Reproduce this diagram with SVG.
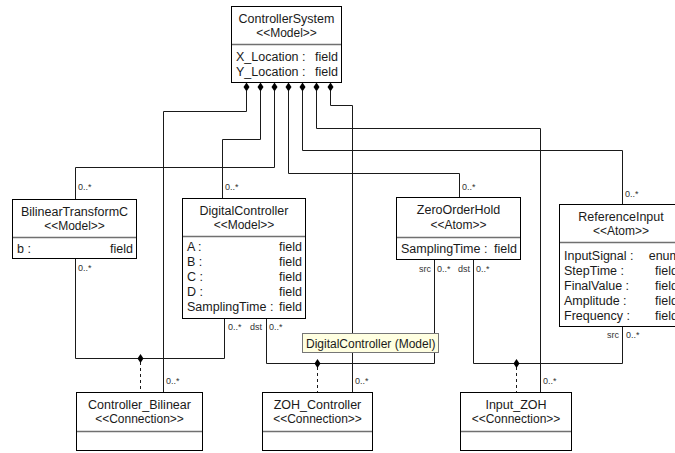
<svg xmlns="http://www.w3.org/2000/svg" width="675" height="453" viewBox="0 0 675 453">
<style>
.box{fill:#fff;stroke:#000;stroke-width:1}
.div{stroke:#707070;stroke-width:1.5}
.t{font-family:"Liberation Sans",Arial,sans-serif;font-size:12.5px;fill:#1a1a1a}
.c{text-anchor:middle}
.r{text-anchor:end}
.s{font-family:"Liberation Sans",Arial,sans-serif;font-size:12px;fill:#1a1a1a;text-anchor:middle}
.l{font-family:"Liberation Sans",Arial,sans-serif;font-size:9px;fill:#333}
.ln{fill:none;stroke:#1a1a1a;stroke-width:1}
.dash{fill:none;stroke:#1a1a1a;stroke-width:1;stroke-dasharray:3,3}
.dia{fill:#000}
</style>
<defs>
<polygon id="d" points="0,-4.5 3,0 0,4.5 -3,0"/>
</defs>
<g id="connectors">
<path class="ln" d="M246.5,91 V111.5 H163.5 V392"/>
<path class="ln" d="M260.5,91 V139.5 H222.5 V198"/>
<path class="ln" d="M274.5,91 V167.5 H75.5 V199"/>
<path class="ln" d="M288.5,91 V173.5 H459.5 V197"/>
<path class="ln" d="M302.5,91 V150.5 H622.5 V204"/>
<path class="ln" d="M316.5,91 V128.5 H540.5 V392"/>
<path class="ln" d="M330.5,91 V105.5 H352.5 V392"/>
<use href="#d" class="dia" x="246.5" y="87"/>
<use href="#d" class="dia" x="260.5" y="87"/>
<use href="#d" class="dia" x="274.5" y="87"/>
<use href="#d" class="dia" x="288.5" y="87"/>
<use href="#d" class="dia" x="302.5" y="87"/>
<use href="#d" class="dia" x="316.5" y="87"/>
<use href="#d" class="dia" x="330.5" y="87"/>
<path class="ln" d="M75.5,259 V358.5 H224.5 V318"/>
<path class="ln" d="M266.5,318 V363.5 H434.5 V259"/>
<path class="ln" d="M473.5,259 V363.5 H622.5 V326"/>
<path class="dash" d="M140.5,362 V392"/>
<path class="dash" d="M317.5,367 V392"/>
<path class="dash" d="M516.5,367 V392"/>
<use href="#d" class="dia" x="140.5" y="358.5"/>
<use href="#d" class="dia" x="317.5" y="363.5"/>
<use href="#d" class="dia" x="516.5" y="363.5"/>
<text class="l" x="78" y="190">0..*</text>
<text class="l" x="225" y="190">0..*</text>
<text class="l" x="462" y="190">0..*</text>
<text class="l" x="625" y="197">0..*</text>
<text class="l" x="78" y="271">0..*</text>
<text class="l" x="228" y="330">0..*</text>
<text class="l r" x="262" y="330">dst</text>
<text class="l" x="269" y="330">0..*</text>
<text class="l r" x="431" y="272">src</text>
<text class="l" x="437" y="272">0..*</text>
<text class="l r" x="470" y="272">dst</text>
<text class="l" x="476" y="272">0..*</text>
<text class="l r" x="619" y="338">src</text>
<text class="l" x="626" y="338">0..*</text>
<text class="l" x="166" y="384">0..*</text>
<text class="l" x="355" y="384">0..*</text>
<text class="l" x="543" y="384">0..*</text>
</g>
<g id="ControllerSystem">
<rect class="box" x="231.5" y="6.5" width="110" height="76"/>
<text class="t c" x="286.5" y="23">ControllerSystem</text>
<text class="s" x="286.5" y="37">&lt;&lt;Model&gt;&gt;</text>
<line class="div" x1="232" y1="44.5" x2="341" y2="44.5"/>
<text class="t" x="236" y="61">X_Location :</text>
<text class="t r" x="338" y="61">field</text>
<text class="t" x="236" y="76">Y_Location :</text>
<text class="t r" x="338" y="76">field</text>
</g>
<g id="BilinearTransformC">
<rect class="box" x="12.5" y="199.5" width="124" height="59"/>
<text class="t c" x="74.5" y="216">BilinearTransformC</text>
<text class="s" x="74.5" y="230">&lt;&lt;Model&gt;&gt;</text>
<line class="div" x1="13" y1="237.5" x2="136" y2="237.5"/>
<text class="t" x="17" y="253">b :</text>
<text class="t r" x="133" y="253">field</text>
</g>
<g id="DigitalController">
<rect class="box" x="182.5" y="198.5" width="123" height="120"/>
<text class="t c" x="244" y="215">DigitalController</text>
<text class="s" x="244" y="229">&lt;&lt;Model&gt;&gt;</text>
<line class="div" x1="183" y1="236.5" x2="305" y2="236.5"/>
<text class="t" x="187" y="251">A :</text>
<text class="t r" x="302" y="251">field</text>
<text class="t" x="187" y="266">B :</text>
<text class="t r" x="302" y="266">field</text>
<text class="t" x="187" y="281">C :</text>
<text class="t r" x="302" y="281">field</text>
<text class="t" x="187" y="296">D :</text>
<text class="t r" x="302" y="296">field</text>
<text class="t" x="187" y="311">SamplingTime :</text>
<text class="t r" x="302" y="311">field</text>
</g>
<g id="ZeroOrderHold">
<rect class="box" x="396.5" y="197.5" width="124" height="62"/>
<text class="t c" x="458.5" y="214">ZeroOrderHold</text>
<text class="s" x="458.5" y="229">&lt;&lt;Atom&gt;&gt;</text>
<line class="div" x1="397" y1="237.5" x2="520" y2="237.5"/>
<text class="t" x="401" y="253">SamplingTime :</text>
<text class="t r" x="517" y="253">field</text>
</g>
<g id="ReferenceInput">
<rect class="box" x="559.5" y="204.5" width="125" height="122"/>
<text class="t c" x="621" y="221">ReferenceInput</text>
<text class="s" x="621" y="235">&lt;&lt;Atom&gt;&gt;</text>
<line class="div" x1="560" y1="242.5" x2="684" y2="242.5"/>
<text class="t" x="564" y="260">InputSignal :</text>
<text class="t r" x="680" y="260">enum</text>
<text class="t" x="564" y="275">StepTime :</text>
<text class="t r" x="678" y="275">field</text>
<text class="t" x="564" y="290">FinalValue :</text>
<text class="t r" x="678" y="290">field</text>
<text class="t" x="564" y="305">Amplitude :</text>
<text class="t r" x="678" y="305">field</text>
<text class="t" x="564" y="320">Frequency :</text>
<text class="t r" x="678" y="320">field</text>
</g>
<g id="Controller_Bilinear">
<rect class="box" x="76.5" y="392.5" width="126" height="58"/>
<text class="t c" x="139.5" y="409">Controller_Bilinear</text>
<text class="s" x="139.5" y="423">&lt;&lt;Connection&gt;&gt;</text>
<line class="div" x1="77" y1="431.5" x2="202" y2="431.5"/>
</g>
<g id="ZOH_Controller">
<rect class="box" x="262.5" y="392.5" width="110" height="58"/>
<text class="t c" x="317.5" y="409">ZOH_Controller</text>
<text class="s" x="317.5" y="423">&lt;&lt;Connection&gt;&gt;</text>
<line class="div" x1="263" y1="431.5" x2="372" y2="431.5"/>
</g>
<g id="Input_ZOH">
<rect class="box" x="460.5" y="392.5" width="111" height="58"/>
<text class="t c" x="516" y="409">Input_ZOH</text>
<text class="s" x="516" y="423">&lt;&lt;Connection&gt;&gt;</text>
<line class="div" x1="461" y1="431.5" x2="571" y2="431.5"/>
</g>
<g id="tooltip">
<rect x="302.5" y="333.5" width="136" height="19" fill="#ffffe1" stroke="#767676"/>
<text class="t" x="306" y="347.5" style="font-size:12px">DigitalController (Model)</text>
</g>
</svg>
